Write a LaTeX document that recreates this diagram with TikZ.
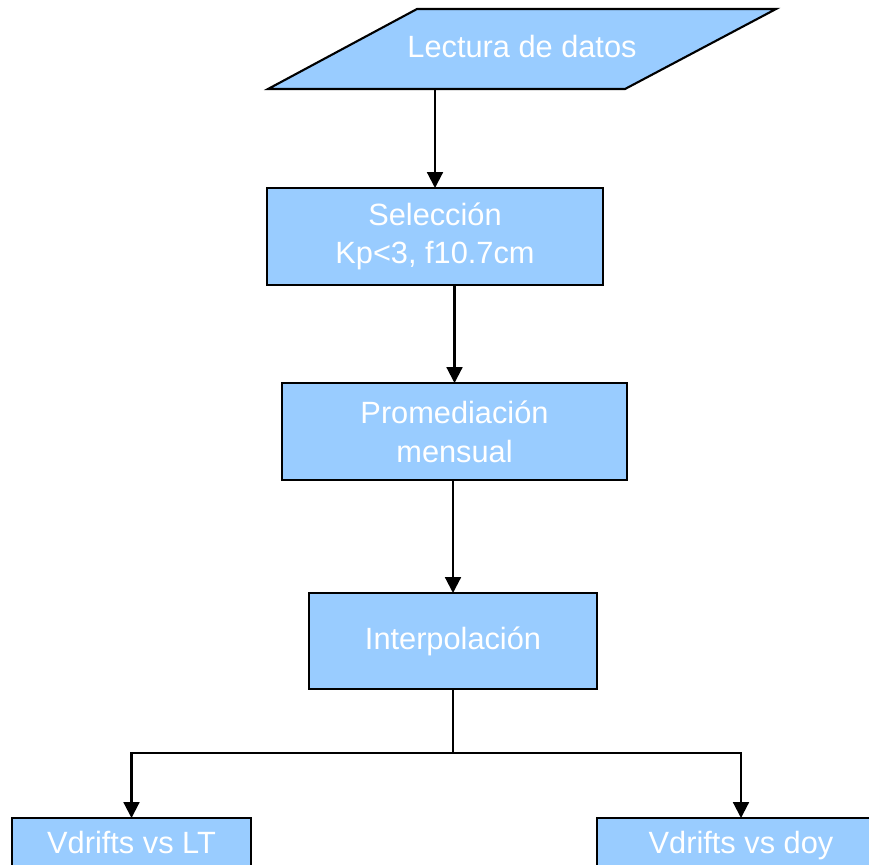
\documentclass[tikz,border=0pt]{standalone}
\usepackage{fontspec}
\setmainfont{Liberation Sans}
\usetikzlibrary{arrows.meta, calc}
\definecolor{boxblue}{HTML}{99CCFF}

\begin{document}
\begin{tikzpicture}[
    >={Triangle[width=9pt,length=9pt]}, % Set default arrow tip style
    line width=1.2pt,
    steptext/.style={text=white, align=center, inner sep=2pt, outer sep=0pt,
        font=\fontsize{17.5}{22}\selectfont}, % White box text
    stepbox/.style={steptext, draw=black, fill=boxblue}, % Style for process boxes
    linebox/.style={stepbox, text height=1em, text depth=0pt} % Style for one-line boxes
]

% Frame of the picture
\clip (0, 0) rectangle (17.38, -17.28);

% Data input (parallelogram)
\draw[fill=boxblue] (5.36, -1.78) -- (8.34, -0.18) -- (15.52, -0.18) -- (12.50, -1.78) -- cycle;
\node[steptext, text height=1em, text depth=0pt] (read) at (10.44, -0.98) {Lectura de datos};
\coordinate (readbase) at (10.44, -1.78);

% Boxes
\node[stepbox, minimum width=6.72cm, minimum height=1.94cm] (select) at (8.70, -4.73) {Selección\\Kp<3, f10.7cm};
\node[stepbox, minimum width=6.90cm, minimum height=1.94cm] (avg) at (9.09, -8.63) {Promediación\\mensual};
\node[linebox, minimum width=5.76cm, minimum height=1.92cm] (interp) at (9.06, -12.82) {Interpolación};
\node[linebox, minimum width=4.78cm, minimum height=1.08cm] (lt) at (2.63, -16.90) {Vdrifts vs LT};
\node[linebox, minimum width=5.76cm, minimum height=1.08cm] (doy) at (14.82, -16.90) {Vdrifts vs doy};

% Arrows between the steps
\draw[->] (select.north |- readbase) -- (select.north);
\draw[->] (avg.north |- select.south) -- (avg.north);
\draw[->] (interp.north |- avg.south) -- (interp.north);

% Branch to the two outputs
\coordinate (split) at ($(interp.south) + (0, -1.28)$);
\draw (interp.south) -- (split);
\draw[->] (split) -| (lt.north);
\draw[->] (split) -| (doy.north);

\end{tikzpicture}
\end{document}
